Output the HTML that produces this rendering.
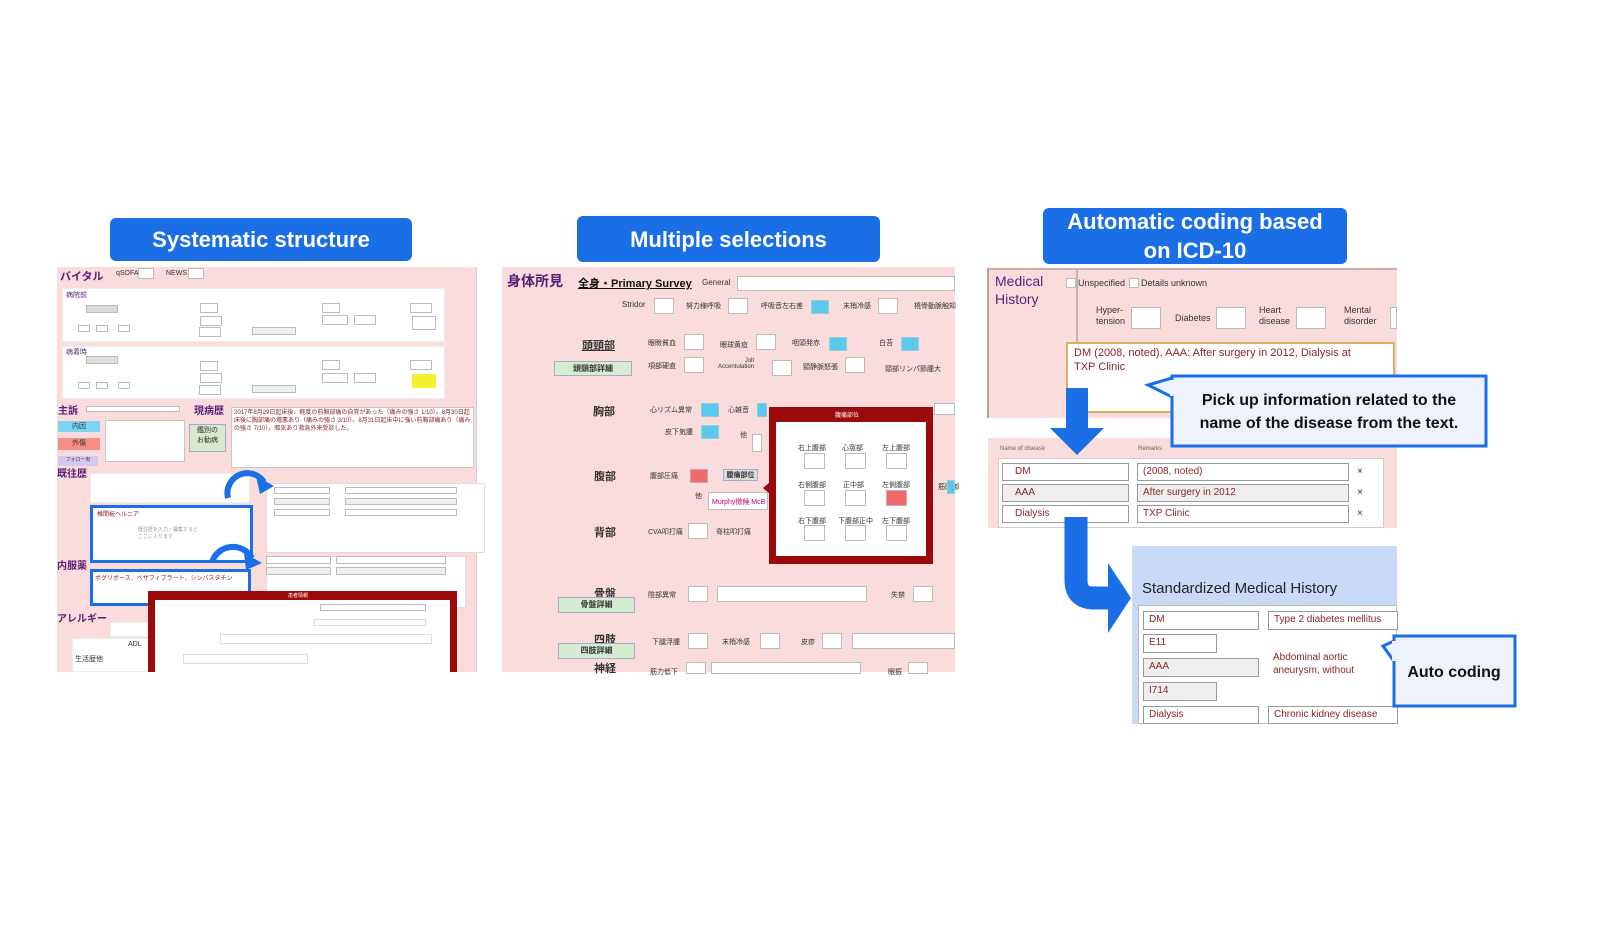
<!DOCTYPE html>
<html><head><meta charset="utf-8">
<style>
*{margin:0;padding:0;box-sizing:border-box}
body{width:1600px;height:933px;background:#fff;position:relative;overflow:hidden;font-family:"Liberation Sans","Noto Sans CJK JP",sans-serif}
.a{position:absolute}
.hdr{position:absolute;background:#1a6ee6;color:#fff;border-radius:6px;text-align:center;font-weight:bold;font-size:22px;display:flex;align-items:center;justify-content:center;line-height:29px}
.pink{background:#fbdcdc}
.w{position:absolute;background:#fff;border:1px solid #c8c8c8}
.t{position:absolute;font-size:7px;color:#333;white-space:nowrap}
.j{position:absolute;color:#5a1d7a;font-weight:bold;white-space:nowrap}
.bx{position:absolute;background:#fff;border:1px solid #bbb}
.bl{position:absolute;background:#5bc8f0;border:1px solid #9cc}
.rd{position:absolute;background:#f06a6a;border:1px solid #caa}
.g{position:absolute;background:#d4ecd0;border:1px solid #aac;font-size:8px;font-weight:bold;color:#333;text-align:center}
.in{position:absolute;background:#fff;border:1px solid #999;font-size:10px;color:#8b2525;padding-left:12px;line-height:16px;white-space:nowrap;overflow:hidden}
</style></head><body>

<div class="hdr" style="left:110px;top:218px;width:302px;height:43px">Systematic structure</div>
<div class="hdr" style="left:577px;top:216px;width:303px;height:46px">Multiple selections</div>
<div class="hdr" style="left:1043px;top:208px;width:304px;height:56px">Automatic coding based<br>on ICD-10</div>

<!-- PANEL 1 -->
<div class="a pink" style="left:57px;top:267px;width:420px;height:405px;border-right:1px solid #ccd"></div>
<div class="j" style="left:60px;top:268px;font-size:11px">バイタル</div>
<div class="t" style="left:116px;top:270px">qSOFA</div><div class="bx" style="left:138px;top:268px;width:16px;height:11px"></div>
<div class="t" style="left:166px;top:270px">NEWS</div><div class="bx" style="left:188px;top:268px;width:16px;height:11px"></div>
<div class="w" style="left:62px;top:288px;width:383px;height:54px;border-color:#eee"></div>
<div class="w" style="left:62px;top:346px;width:383px;height:53px;border-color:#eee"></div>
<div class="t" style="left:66px;top:290px;color:#5a1d7a">病院前</div>
<div class="t" style="left:66px;top:347px;color:#5a1d7a">病着時</div>
<div class="bx" style="left:86px;top:305px;width:32px;height:8px;background:#ddd"></div>
<div class="bx" style="left:86px;top:356px;width:32px;height:8px;background:#ddd"></div>
<div class="bx" style="left:200px;top:303px;width:18px;height:10px"></div>
<div class="bx" style="left:200px;top:316px;width:22px;height:10px"></div>
<div class="bx" style="left:199px;top:327px;width:22px;height:10px"></div>
<div class="bx" style="left:252px;top:327px;width:44px;height:8px;background:#eee"></div>
<div class="bx" style="left:322px;top:303px;width:18px;height:10px"></div>
<div class="bx" style="left:322px;top:315px;width:26px;height:10px"></div>
<div class="bx" style="left:354px;top:315px;width:22px;height:10px"></div>
<div class="bx" style="left:410px;top:303px;width:22px;height:10px"></div>
<div class="bx" style="left:412px;top:316px;width:24px;height:14px"></div>
<div class="bx" style="left:200px;top:361px;width:18px;height:10px"></div>
<div class="bx" style="left:200px;top:373px;width:22px;height:10px"></div>
<div class="bx" style="left:199px;top:385px;width:22px;height:10px"></div>
<div class="bx" style="left:252px;top:385px;width:44px;height:8px;background:#eee"></div>
<div class="bx" style="left:322px;top:360px;width:18px;height:10px"></div>
<div class="bx" style="left:322px;top:373px;width:26px;height:10px"></div>
<div class="bx" style="left:354px;top:373px;width:22px;height:10px"></div>
<div class="bx" style="left:410px;top:360px;width:22px;height:10px"></div>
<div class="a" style="left:412px;top:374px;width:24px;height:14px;background:#f6f032"></div>
<div class="bx" style="left:78px;top:325px;width:12px;height:7px"></div><div class="bx" style="left:96px;top:325px;width:12px;height:7px"></div><div class="bx" style="left:118px;top:325px;width:12px;height:7px"></div>
<div class="bx" style="left:78px;top:382px;width:12px;height:7px"></div><div class="bx" style="left:96px;top:382px;width:12px;height:7px"></div><div class="bx" style="left:118px;top:382px;width:12px;height:7px"></div>

<div class="j" style="left:58px;top:402px;font-size:10px">主訴</div>
<div class="bx" style="left:86px;top:406px;width:94px;height:6px"></div>
<div class="j" style="left:194px;top:402px;font-size:10px">現病歴</div>
<div class="a" style="left:58px;top:421px;width:42px;height:11px;background:#7dd3f2;font-size:7px;text-align:center;color:#333">内因</div>
<div class="a" style="left:58px;top:438px;width:42px;height:12px;background:#f58e84;font-size:7px;text-align:center;color:#333">外傷</div>
<div class="a" style="left:58px;top:456px;width:40px;height:10px;background:#d5c8f0;font-size:5px;text-align:center;color:#333">フォロー有</div>
<div class="w" style="left:105px;top:420px;width:80px;height:42px"></div>
<div class="g" style="left:189px;top:424px;width:37px;height:28px;font-size:7px;font-weight:normal;background:#d8e8d0">鑑別の<br>お勧病</div>
<div class="w" style="left:231px;top:407px;width:243px;height:61px"></div>
<div class="t" style="left:234px;top:409px;color:#8b1a1a;font-size:6px;line-height:8px">2017年8月29日起床後、軽度の前胸部痛の自覚があった（痛みの強さ 1/10）。8月30日起<br>床後に胸部痛の増悪あり（痛みの強さ 3/10）。8月31日起床中に強い前胸部痛あり（痛み<br>の強さ 7/10）。嘔気あり救急外来受診した。</div>

<div class="j" style="left:57px;top:465px;font-size:10px">既往歴</div>
<div class="w" style="left:90px;top:473px;width:160px;height:30px;border-color:#eee"></div>
<div class="w" style="left:266px;top:483px;width:219px;height:70px;border-color:#ddd"></div>
<div class="bx" style="left:274px;top:487px;width:56px;height:7px"></div><div class="bx" style="left:345px;top:487px;width:112px;height:7px"></div>
<div class="bx" style="left:274px;top:498px;width:56px;height:7px;background:#eee"></div><div class="bx" style="left:345px;top:498px;width:112px;height:7px;background:#eee"></div>
<div class="bx" style="left:274px;top:509px;width:56px;height:7px"></div><div class="bx" style="left:345px;top:509px;width:112px;height:7px"></div>
<div class="a" style="left:90px;top:505px;width:163px;height:58px;border:3px solid #1a6ee6;background:#fff"></div>
<div class="t" style="left:97px;top:509px;color:#8b1a1a;font-size:6px">椎間板ヘルニア</div>
<div class="t" style="left:138px;top:526px;color:#999;font-size:5px">既往歴を入力・編集すると<br>ここに入ります</div>

<div class="j" style="left:57px;top:557px;font-size:10px">内服薬</div>
<div class="w" style="left:266px;top:556px;width:200px;height:52px;border-color:#ddd"></div>
<div class="bx" style="left:266px;top:556px;width:65px;height:8px"></div><div class="bx" style="left:336px;top:556px;width:110px;height:8px"></div>
<div class="bx" style="left:266px;top:567px;width:65px;height:8px;background:#eee"></div><div class="bx" style="left:336px;top:567px;width:110px;height:8px;background:#eee"></div>
<div class="a" style="left:90px;top:569px;width:161px;height:37px;border:3px solid #1a6ee6;background:#fff"></div>
<div class="t" style="left:95px;top:573px;color:#8b1a1a;font-size:6px">ボグリボース、ベザフィブラート、シンバスタチン</div>
<div class="j" style="left:57px;top:610px;font-size:10px">アレルギー</div>
<div class="w" style="left:110px;top:622px;width:40px;height:15px;border-color:#eee"></div>
<div class="w" style="left:72px;top:638px;width:80px;height:34px;border-color:#eee"></div>
<div class="t" style="left:75px;top:654px;color:#333">生活歴他</div><div class="t" style="left:128px;top:641px">ADL</div>
<div class="a" style="left:148px;top:591px;width:309px;height:81px;background:#9c0b0b"></div>
<div class="a" style="left:155px;top:600px;width:295px;height:72px;background:#fff"></div>
<div class="t" style="left:288px;top:592px;color:#fff;font-size:5px">患者情報</div>
<div class="bx" style="left:320px;top:604px;width:106px;height:7px"></div>
<div class="bx" style="left:314px;top:619px;width:112px;height:7px;border-color:#ddd"></div>
<div class="bx" style="left:220px;top:634px;width:212px;height:10px;border-color:#ddd"></div>
<div class="bx" style="left:183px;top:654px;width:125px;height:10px;border-color:#ddd"></div>
<svg class="a" style="left:0;top:0" width="600" height="700">
<path d="M228 498 A20 20 0 0 1 264 482" fill="none" stroke="#1a6ee6" stroke-width="6"/>
<polygon points="256,476 274,486 260,494" fill="#1a6ee6"/>
<path d="M212 562 A22 22 0 0 1 252 558" fill="none" stroke="#1a6ee6" stroke-width="6"/>
<polygon points="244,553 262,563 246,570" fill="#1a6ee6"/>
</svg>

<!-- PANEL 2 -->
<div class="a pink" style="left:502px;top:267px;width:453px;height:405px"></div>
<div class="j" style="left:507px;top:271px;font-size:14px">身体所見</div>
<div class="a" style="left:578px;top:275px;font-size:11px;font-weight:bold;text-decoration:underline;color:#111">全身・Primary Survey</div>
<div class="t" style="left:702px;top:278px;font-size:8px">General</div>
<div class="bx" style="left:737px;top:276px;width:218px;height:15px"></div>
<div class="t" style="left:622px;top:300px;font-size:8px">Stridor</div><div class="bx" style="left:654px;top:298px;width:20px;height:16px"></div>
<div class="t" style="left:686px;top:301px">努力様呼吸</div><div class="bx" style="left:728px;top:298px;width:20px;height:16px"></div>
<div class="t" style="left:761px;top:301px">呼吸音左右差</div><div class="bl" style="left:811px;top:300px;width:18px;height:14px"></div>
<div class="t" style="left:843px;top:301px">末梢冷感</div><div class="bx" style="left:878px;top:298px;width:20px;height:16px"></div>
<div class="t" style="left:914px;top:301px">橈骨動脈触知</div>
<div class="j" style="left:582px;top:337px;font-size:11px;color:#333;text-decoration:underline">頭頸部</div>
<div class="g" style="left:554px;top:361px;width:78px;height:15px;line-height:13px">頭頸部詳細</div>
<div class="t" style="left:648px;top:338px">眼瞼貧血</div><div class="bx" style="left:684px;top:334px;width:20px;height:16px"></div>
<div class="t" style="left:720px;top:340px">眼球黄疸</div><div class="bx" style="left:756px;top:334px;width:20px;height:16px"></div>
<div class="t" style="left:792px;top:338px">咽頭発赤</div><div class="bl" style="left:829px;top:337px;width:18px;height:14px"></div>
<div class="t" style="left:879px;top:338px">白苔</div><div class="bl" style="left:901px;top:337px;width:18px;height:14px"></div>
<div class="t" style="left:648px;top:361px">項部硬直</div><div class="bx" style="left:684px;top:357px;width:20px;height:16px"></div>
<div class="t" style="left:718px;top:358px;font-size:6px;text-align:right">Jolt<br>Accentulation</div><div class="bx" style="left:772px;top:360px;width:20px;height:16px"></div>
<div class="t" style="left:803px;top:362px">頸静脈怒張</div><div class="bx" style="left:845px;top:357px;width:20px;height:16px"></div>
<div class="t" style="left:885px;top:364px">頸部リンパ節腫大</div>
<div class="j" style="left:593px;top:403px;font-size:11px;color:#333">胸部</div>
<div class="t" style="left:650px;top:405px">心リズム異常</div><div class="bl" style="left:701px;top:403px;width:18px;height:14px"></div>
<div class="t" style="left:728px;top:405px">心雑音</div><div class="bl" style="left:757px;top:403px;width:10px;height:14px"></div>
<div class="t" style="left:665px;top:427px">皮下気腫</div><div class="bl" style="left:701px;top:425px;width:18px;height:14px"></div>
<div class="t" style="left:740px;top:430px">他</div><div class="bx" style="left:752px;top:434px;width:10px;height:18px"></div>
<div class="j" style="left:594px;top:468px;font-size:11px;color:#333">腹部</div>
<div class="t" style="left:650px;top:471px">腹部圧痛</div><div class="rd" style="left:690px;top:469px;width:18px;height:14px"></div>
<div class="g" style="left:723px;top:469px;width:35px;height:12px;font-size:7px;background:#ddd">腹痛部位</div>
<div class="t" style="left:695px;top:491px">他</div><div class="bx" style="left:708px;top:492px;width:60px;height:18px"></div>
<div class="t" style="left:712px;top:497px;color:#b07">Murphy徴候 McB</div>
<div class="j" style="left:594px;top:524px;font-size:11px;color:#333">背部</div>
<div class="t" style="left:648px;top:527px">CVA叩打痛</div><div class="bx" style="left:688px;top:523px;width:20px;height:16px"></div>
<div class="t" style="left:716px;top:527px">脊柱叩打痛</div>
<div class="a" style="left:769px;top:407px;width:164px;height:157px;background:#9c0b0b"></div>
<div class="a" style="left:776px;top:422px;width:150px;height:134px;background:#fff"></div>
<div class="a" style="left:763px;top:482px;width:0;height:0;border-top:6px solid transparent;border-bottom:6px solid transparent;border-right:7px solid #9c0b0b"></div>
<div class="t" style="left:835px;top:410px;color:#fff;font-size:6px">腹痛部位</div>
<div class="t" style="left:798px;top:443px">右上腹部</div><div class="t" style="left:842px;top:443px">心窩部</div><div class="t" style="left:882px;top:443px">左上腹部</div>
<div class="bx" style="left:804px;top:453px;width:21px;height:16px"></div><div class="bx" style="left:845px;top:453px;width:21px;height:16px"></div><div class="bx" style="left:886px;top:453px;width:21px;height:16px"></div>
<div class="t" style="left:798px;top:480px">右側腹部</div><div class="t" style="left:843px;top:480px">正中部</div><div class="t" style="left:882px;top:480px">左側腹部</div>
<div class="bx" style="left:804px;top:490px;width:21px;height:16px"></div><div class="bx" style="left:845px;top:490px;width:21px;height:16px"></div><div class="rd" style="left:886px;top:490px;width:21px;height:16px"></div>
<div class="t" style="left:798px;top:516px">右下腹部</div><div class="t" style="left:838px;top:516px">下腹部正中</div><div class="t" style="left:882px;top:516px">左下腹部</div>
<div class="bx" style="left:804px;top:525px;width:21px;height:16px"></div><div class="bx" style="left:845px;top:525px;width:21px;height:16px"></div><div class="bx" style="left:886px;top:525px;width:21px;height:16px"></div>
<div class="bx" style="left:934px;top:403px;width:21px;height:12px"></div>
<div class="t" style="left:938px;top:482px">筋防御</div><div class="bl" style="left:947px;top:480px;width:8px;height:14px"></div>
<div class="j" style="left:594px;top:585px;font-size:11px;color:#333">骨盤</div>
<div class="g" style="left:558px;top:597px;width:77px;height:16px;line-height:14px">骨盤詳細</div>
<div class="t" style="left:648px;top:590px">陰部異常</div><div class="bx" style="left:688px;top:586px;width:20px;height:16px"></div>
<div class="bx" style="left:717px;top:586px;width:150px;height:16px"></div>
<div class="t" style="left:891px;top:590px">失禁</div><div class="bx" style="left:913px;top:586px;width:20px;height:16px"></div>
<div class="j" style="left:594px;top:631px;font-size:11px;color:#333">四肢</div>
<div class="g" style="left:558px;top:643px;width:77px;height:16px;line-height:14px">四肢詳細</div>
<div class="t" style="left:652px;top:637px">下腿浮腫</div><div class="bx" style="left:688px;top:633px;width:20px;height:16px"></div>
<div class="t" style="left:722px;top:637px">末梢冷感</div><div class="bx" style="left:760px;top:633px;width:20px;height:16px"></div>
<div class="t" style="left:801px;top:637px">皮疹</div><div class="bx" style="left:822px;top:633px;width:20px;height:16px"></div>
<div class="bx" style="left:852px;top:633px;width:103px;height:16px"></div>
<div class="j" style="left:594px;top:660px;font-size:11px;color:#333">神経</div>
<div class="t" style="left:650px;top:667px">筋力低下</div><div class="bx" style="left:686px;top:662px;width:20px;height:12px"></div>
<div class="bx" style="left:711px;top:662px;width:150px;height:12px"></div>
<div class="t" style="left:888px;top:667px">眼振</div><div class="bx" style="left:908px;top:662px;width:20px;height:12px"></div>

<!-- PANEL 3 -->
<div class="a pink" style="left:988px;top:268px;width:409px;height:150px;border-top:2px solid #c9b0b0"></div>
<div class="a" style="left:987px;top:268px;width:2px;height:150px;background:#b9a0a0"></div>
<div class="a" style="left:1076px;top:268px;width:2px;height:150px;background:#c9b0b0"></div>
<div class="a" style="left:995px;top:272px;font-size:14px;color:#5a1d7a;line-height:18px">Medical<br>History</div>
<div class="bx" style="left:1066px;top:278px;width:10px;height:10px"></div><div class="t" style="left:1078px;top:278px;font-size:9px">Unspecified</div>
<div class="bx" style="left:1129px;top:278px;width:10px;height:10px"></div><div class="t" style="left:1141px;top:278px;font-size:9px">Details unknown</div>
<div class="t" style="left:1096px;top:305px;font-size:9px;line-height:11px">Hyper-<br>tension</div><div class="bx" style="left:1131px;top:307px;width:30px;height:22px"></div>
<div class="t" style="left:1175px;top:313px;font-size:9px">Diabetes</div><div class="bx" style="left:1216px;top:307px;width:30px;height:22px"></div>
<div class="t" style="left:1259px;top:305px;font-size:9px;line-height:11px">Heart<br>disease</div><div class="bx" style="left:1296px;top:307px;width:30px;height:22px"></div>
<div class="t" style="left:1344px;top:305px;font-size:9px;line-height:11px">Mental<br>disorder</div><div class="bx" style="left:1390px;top:307px;width:7px;height:22px"></div>
<div class="a" style="left:1066px;top:342px;width:329px;height:71px;background:#fff;border:2px solid #d9b060"></div>
<div class="a" style="left:1074px;top:346px;font-size:11px;color:#8b2525;line-height:14px;width:300px">DM (2008, noted), AAA: After surgery in 2012, Dialysis at TXP Clinic</div>

<div class="a pink" style="left:988px;top:438px;width:409px;height:90px"></div>
<div class="t" style="left:1000px;top:446px;font-size:6px;color:#666">Name of disease</div>
<div class="t" style="left:1138px;top:446px;font-size:6px;color:#666">Remarks</div>
<div class="a" style="left:998px;top:458px;width:386px;height:70px;background:#fff;border:1px solid #ccc"></div>
<div class="in" style="left:1002px;top:463px;width:127px;height:18px">DM</div>
<div class="in" style="left:1002px;top:484px;width:127px;height:18px;background:#eee">AAA</div>
<div class="in" style="left:1002px;top:505px;width:127px;height:18px">Dialysis</div>
<div class="in" style="left:1137px;top:463px;width:212px;height:18px;padding-left:5px">(2008, noted)</div>
<div class="in" style="left:1137px;top:484px;width:212px;height:18px;padding-left:5px;background:#eee">After surgery in 2012</div>
<div class="in" style="left:1137px;top:505px;width:212px;height:18px;padding-left:5px">TXP Clinic</div>
<div class="t" style="left:1357px;top:466px;font-size:10px">×</div><div class="t" style="left:1357px;top:487px;font-size:10px">×</div><div class="t" style="left:1357px;top:508px;font-size:10px">×</div>

<div class="a" style="left:1132px;top:546px;width:265px;height:178px;background:#cbd9f8"></div>
<div class="a" style="left:1142px;top:580px;font-size:15px;color:#222">Standardized Medical History</div>
<div class="a" style="left:1138px;top:605px;width:259px;height:119px;background:#fff;border:1px solid #bbb"></div>
<div class="in" style="left:1143px;top:611px;width:116px;height:19px;padding-left:5px">DM</div>
<div class="in" style="left:1268px;top:611px;width:130px;height:19px;padding-left:5px">Type 2 diabetes mellitus</div>
<div class="in" style="left:1143px;top:634px;width:74px;height:19px;padding-left:5px">E11</div>
<div class="in" style="left:1143px;top:658px;width:116px;height:19px;padding-left:5px;background:#eee">AAA</div>
<div class="t" style="left:1273px;top:651px;font-size:10px;color:#8b2525;line-height:13px">Abdominal aortic<br>aneurysm, without</div>
<div class="in" style="left:1143px;top:682px;width:74px;height:19px;padding-left:5px;background:#eee">I714</div>
<div class="in" style="left:1143px;top:706px;width:116px;height:18px;padding-left:5px">Dialysis</div>
<div class="in" style="left:1268px;top:706px;width:130px;height:18px;padding-left:5px">Chronic kidney disease</div>

<svg class="a" style="left:0;top:0" width="1600" height="933">
<rect x="1066" y="388" width="22" height="42" fill="#1a6ee6"/>
<polygon points="1050,428 1104,428 1077,455" fill="#1a6ee6"/>
<path d="M1076 517 L1076 580 Q1076 598 1094 598 L1112 598" fill="none" stroke="#1a6ee6" stroke-width="23"/>
<polygon points="1108,563 1131,598 1108,633" fill="#1a6ee6"/>
<polygon points="1172,378 1148,385 1174,398" fill="#eef3fb" stroke="#1a6ee6" stroke-width="3" stroke-linejoin="miter"/>
<rect x="1172" y="376" width="314" height="70" fill="#eef3fb" stroke="#1a6ee6" stroke-width="3"/>
<rect x="1170" y="380" width="6" height="16" fill="#eef3fb"/>
<polygon points="1396,640 1383,646 1396,664" fill="#eef3fb" stroke="#1a6ee6" stroke-width="3"/>
<rect x="1394" y="636" width="121" height="70" fill="#eef3fb" stroke="#1a6ee6" stroke-width="3"/>
<rect x="1392" y="641" width="6" height="20" fill="#eef3fb"/>
<text x="1329" y="405" font-family="Liberation Sans, sans-serif" font-size="16" font-weight="bold" text-anchor="middle" fill="#111">Pick up information related to the</text>
<text x="1329" y="428" font-family="Liberation Sans, sans-serif" font-size="16" font-weight="bold" text-anchor="middle" fill="#111">name of the disease from the text.</text>
<text x="1454" y="677" font-family="Liberation Sans, sans-serif" font-size="16" font-weight="bold" text-anchor="middle" fill="#111">Auto coding</text>
</svg>
</body></html>
